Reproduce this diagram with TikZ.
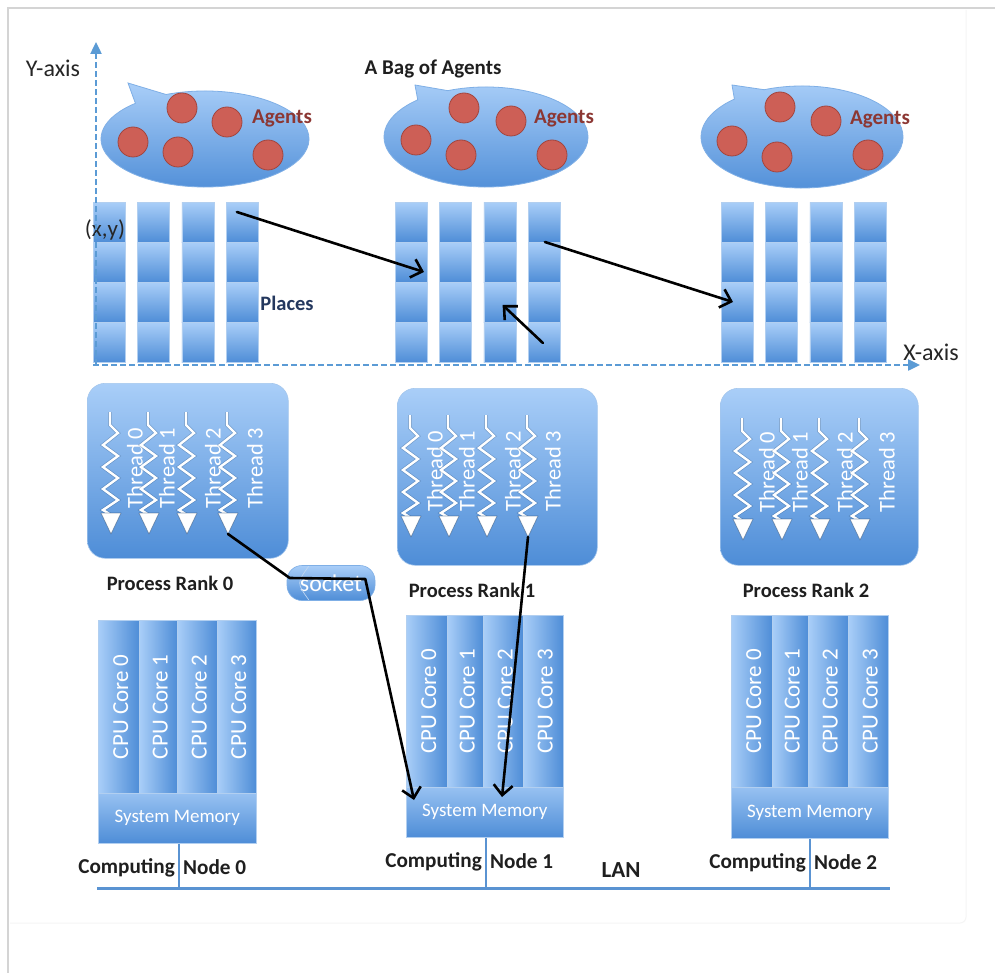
\documentclass[tikz,border=0pt]{standalone}
\usepackage{fontspec}
\setmainfont{Carlito}
\usetikzlibrary{arrows.meta,calc}

\definecolor{axisblue}{HTML}{5B9BD5}
\definecolor{shadelight}{HTML}{A9CEF8}
\definecolor{shadedark}{HTML}{4E8DD7}
\definecolor{rimblue}{HTML}{7FAFE6}
\definecolor{agentfill}{HTML}{CD5F56}
\definecolor{agentrim}{HTML}{A2453E}
\definecolor{agentink}{HTML}{8C3733}
\definecolor{placeink}{HTML}{24385E}
\definecolor{framegray}{HTML}{D4D4D4}
\definecolor{lanblue}{HTML}{5A93D2}

\tikzset{
  axisline/.style={axisblue, line width=2.4pt, dash pattern=on 6pt off 3pt,
    -{Triangle[length=12pt,width=11pt]}},
  bagshape/.style={top color=shadelight, bottom color=shadedark, draw=rimblue, line width=0.8pt},
  agent/.style={circle, fill=agentfill, draw=agentrim, line width=0.8pt, minimum size=30pt, inner sep=0pt},
  agentlabel/.style={text=agentink, font=\bfseries\fontsize{21}{21}\selectfont},
  cell/.style={rectangle, anchor=north west, minimum width=32pt, minimum height=40pt, inner sep=0pt,
    top color=shadelight, bottom color=shadedark, draw=rimblue!60!white, line width=0.6pt},
  procbox/.style={rectangle, anchor=north west, rounded corners=18pt, inner sep=0pt,
    top color=shadelight, bottom color=shadedark, draw=rimblue!70!white, line width=0.6pt},
  threadwire/.style={white, line width=2.4pt, line join=miter, miter limit=4,
    preaction={draw=shadedark!55!black, line width=3.7pt, opacity=0.3}},
  threadhead/.style={fill=white, draw=shadedark!50!black, draw opacity=0.5, line width=0.7pt, line join=round},
  threadtext/.style={white, rotate=90, font=\fontsize{22.5}{22.5}\selectfont},
  core/.style={rectangle, anchor=north west, inner sep=0pt,
    left color=shadelight, right color=shadedark, draw=rimblue!60!white, line width=0.6pt},
  coretext/.style={white, rotate=90, font=\fontsize{23}{23}\selectfont},
  memory/.style={rectangle, anchor=north west, inner sep=0pt,
    top color=shadelight!80!shadedark, bottom color=shadedark, draw=rimblue!60!white, line width=0.6pt,
    text=white, font=\fontsize{19}{19}\selectfont},
  socketbox/.style={rectangle, rounded corners=15pt, minimum width=88pt, minimum height=35pt, inner sep=0pt,
    top color=shadelight, bottom color=shadedark, draw=rimblue, line width=0.6pt,
    text=white, font=\fontsize{24}{24}\selectfont},
  boldlabel/.style={text=black!88, font=\bfseries\fontsize{20.5}{20.5}\selectfont, inner sep=0pt},
  nodelabel/.style={boldlabel, font=\bfseries\fontsize{21.2}{21.2}\selectfont},
  plainlabel/.style={text=black!85, font=\fontsize{24}{24}\selectfont, inner sep=0pt},
  conn/.style={black, line width=2.6pt, line join=round, line cap=round,
    -{Straight Barb[length=10pt,width=19pt,line width=2.6pt]}},
  lanline/.style={lanblue, line width=3pt},
  dropline/.style={lanblue, line width=2pt}
}

% a speech-bubble shaped bag: centre x, centre y, x radius, y radius, tail tip
\newcommand\agentbag[6]{%
  \path[bagshape] (#5,#6) -- ($(#1,#2)+(248:#3 and #4)$)
    arc[start angle=248, end angle=588, x radius=#3, y radius=#4] -- cycle;
}

% a zig-zag thread with its arrow head: x, top y, name of the tip
\newcommand\threadpath[3]{%
  \draw[threadwire] (#1,#2) -- (#1,#2+13) -- (#1+8,#2+21)
    -- (#1-7,#2+33) -- (#1+8,#2+44) -- (#1-7,#2+55) -- (#1+8,#2+66)
    -- (#1-7,#2+77) -- (#1+8,#2+88) -- (#1-7,#2+98) -- (#1+1,#2+103);
  \draw[threadhead] (#1-9,#2+101) -- (#1+11,#2+101) -- (#1+1,#2+122) -- cycle;
  \coordinate (#3) at (#1+1,#2+122);
}

\begin{document}
\begin{tikzpicture}[x=1pt,y=-1pt]
\useasboundingbox (0,0) rectangle (995,973);
\fill[white] (0,0) rectangle (995,973);

% page frame
\draw[black!4, line width=1pt, rounded corners=6pt] (10,923) -- (966,923) -- (966,10);
\draw[framegray, line width=1.4pt] (8,973) -- (8,8) -- (995,8);

% ---------- bags of agents ----------
\agentbag{205}{139}{104}{48}{128}{83}
\agentbag{486}{137}{102}{50}{415}{85}
\agentbag{802}{137}{101}{51}{732}{85}

\foreach \g/\pts in {0/{133/142,182/108,227/122,178/152,268/155},
                     1/{416/140,464/108,511/121,461/155,552/155},
                     2/{732/141,780/107,826/121,777/157,868/155}} {
  \foreach \ax/\ay [count=\k] in \pts {
    \node[agent] (ag\g-\k) at (\ax,\ay) {};
  }
}
\node[agentlabel] (agl0) at (282,118) {Agents};
\node[agentlabel] (agl1) at (564,118) {Agents};
\node[agentlabel] (agl2) at (880,119) {Agents};
\node[text=black!88, font=\bfseries\fontsize{21}{21}\selectfont] (bag) at (433,69) {A Bag of Agents};

% ---------- places ----------
\foreach \g/\gx in {0/93,1/395,2/721} {
  \foreach \c in {0,...,3} {
    \foreach \r in {0,...,3} {
      \node[cell] (p\g-\c-\r) at ({\gx+44.3*\c},{202+40*\r}) {};
    }
  }
}

\node[plainlabel, font=\fontsize{23}{23}\selectfont] (xy) at (105,230) {(x,y)};
\node[text=placeink, font=\bfseries\fontsize{20.5}{20.5}\selectfont] (places) at (287,303) {Places};

% agent migration between places
\draw[conn] ($(p0-3-0.north west)+(11,10)$) -- ($(p1-0-1.north west)+(29,30)$);
\draw[conn] ($(p1-3-0.north west)+(17,40)$) -- ($(p2-0-2.north west)+(12,20)$);
\draw[conn] ($(p1-3-3.north west)+(15,21)$) -- ($(p1-2-2.north west)+(19,23)$);

% ---------- axes ----------
\coordinate (origin) at (96,365);
\coordinate (ytip) at (96,42);
\coordinate (xtip) at (920,365);
\draw[axisline] (origin) -- (ytip);
\draw[axisline] ($(origin)+(-3,0)$) -- (xtip);
\node[plainlabel] (ylab) at (53,68) {Y-axis};
\node[plainlabel] (xlab) at (931,352) {X-axis};

% ---------- processes ----------
\node[procbox, minimum width=201pt, minimum height=175pt] (pr0) at (87,383) {};
\node[procbox, minimum width=200pt, minimum height=177pt] (pr1) at (397,388) {};
\node[procbox, minimum width=198pt, minimum height=177pt] (pr2) at (720,388) {};

\foreach \p/\lx/\ly in {0/{135,167,213,255}/468, 1/{435,467,513,553}/471, 2/{767,800,845,887}/472} {
  \foreach \tx [count=\k from 0] in \lx {
    \node[threadtext] (tl\p-\k) at (\tx,\ly) {Thread \k};
  }
}
\foreach \p/\xs/\ty in {0/{110,148,186,227}/412, 1/{410,448,486,527}/415, 2/{742,781,819,859}/418} {
  \foreach \tx [count=\k from 0] in \xs {
    \threadpath{\tx}{\ty}{r\p-t\k}
  }
}

\node[boldlabel] (rank0) at (170,583) {Process Rank 0};
\node[boldlabel] (rank1) at (472,590) {Process Rank 1};
\node[boldlabel] (rank2) at (806,590) {Process Rank 2};

% ---------- socket ----------
\node[socketbox] (socket) at (331,583) {socket};
\draw[white!65!shadedark, line width=0.7pt] ($(socket.north west)+(22,1)$)
  .. controls ($(socket.west)+(10,0)$) .. ($(socket.south west)+(22,-1)$);

% ---------- computing nodes ----------
\foreach \n/\edges/\ytop/\cb in {0/{98/139,139/177,177/217,217/256}/620/793,
                                 1/{406/447,447/483,483/523,523/563}/615/787,
                                 2/{731/772,772/808,808/848,848/888}/615/787} {
  \foreach \a/\b [count=\k from 0] in \edges {
    \node[core, minimum width={\b-\a}, minimum height={\cb-\ytop}] (c\n-\k) at (\a,\ytop) {};
    \node[coretext] (ct\n-\k) at ($(c\n-\k.center)+(2,0)$) {CPU Core \k};
  }
}
\node[memory, minimum width=158pt, minimum height=50pt] (mem0) at (98,793) {System Memory};
\node[memory, minimum width=157pt, minimum height=50pt] (mem1) at (406,787) {System Memory};
\node[memory, minimum width=157pt, minimum height=51pt] (mem2) at (731,787) {System Memory};

% ---------- LAN ----------
\coordinate (lanL) at (97,888);
\coordinate (lanR) at (890,888);
\draw[lanline] (lanL) -- (lanR);
\coordinate (d0) at ($(mem0.south west)+(81,0)$);
\coordinate (d1) at ($(mem1.south west)+(80,0)$);
\coordinate (d2) at ($(mem2.south west)+(79,0)$);
\foreach \n in {0,1,2} {
  \draw[dropline] (d\n) -- (d\n |- lanL);
  \node[nodelabel, anchor=east] (cmp\n) at ($(d\n)+(-4,24)$) {Computing};
  \node[nodelabel, anchor=west] (nd\n) at ($(d\n)+(4,24)$) {Node \n};
}
\node[boldlabel, font=\bfseries\fontsize{23}{23}\selectfont] (lan) at (621,870) {LAN};

% ---------- data paths ----------
\coordinate (skin) at ($(socket.west)+(3,-5)$);
\coordinate (skout) at ($(socket.east)+(-10,-4)$);
\draw[conn] (r0-t3) -- (skin) -- (skout) -- ($(mem1.north west)+(8,13)$);
\draw[conn] (r1-t3) -- ($(mem1.north west)+(96,10)$);
\end{tikzpicture}
\end{document}
